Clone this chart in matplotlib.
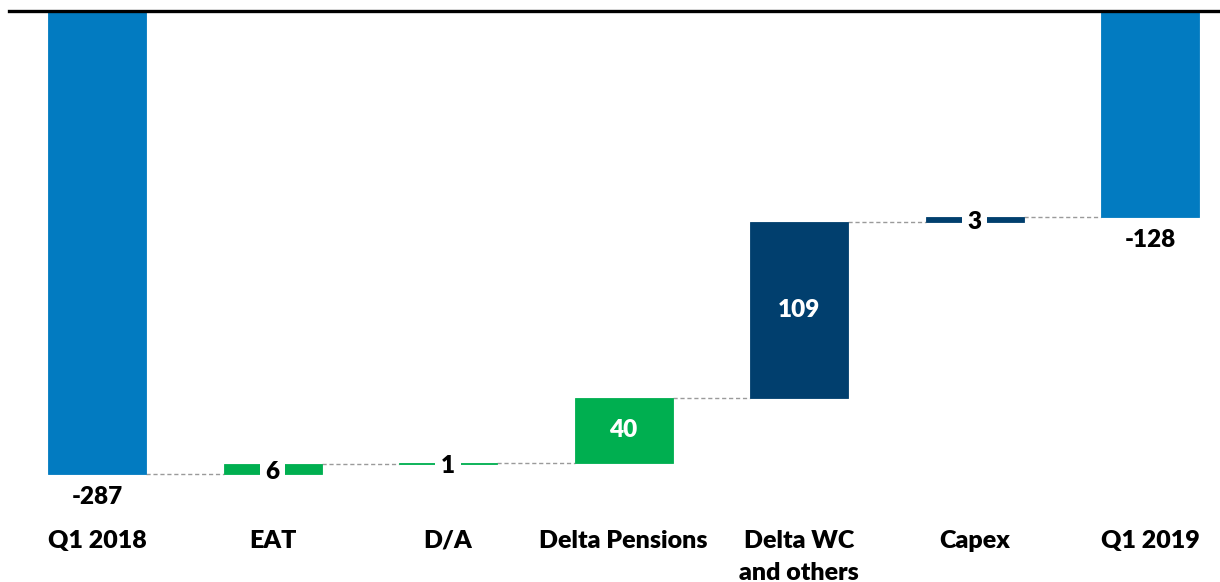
import matplotlib
matplotlib.use("Agg")
import matplotlib.pyplot as plt
import numpy as np

categories = ["Q1 2018", "EAT", "D/A", "Delta Pensions", "Delta WC\nand others", "Capex", "Q1 2019"]
values = [-287, 6, 1, 40, 109, 3, -128]
is_total = [True, False, False, False, False, False, True]
value_labels = ["-287", "6", "1", "40", "109", "3", "-128"]

BLUE = "#027BC1"
GREEN = "#00AF50"
NAVY = "#013F6E"
bar_colors = [BLUE, GREEN, GREEN, GREEN, NAVY, NAVY, BLUE]

plt.rcParams['font.family'] = ['Lato', 'DejaVu Sans']
FW = "heavy"

W, H = 1220, 582
fig = plt.figure(figsize=(W / 100, H / 100), dpi=100)

scale = 1.613  # px per unit
zero_px = 11
ax_bottom_px = 520
ax = fig.add_axes([0, 1 - ax_bottom_px / H, 1, ax_bottom_px / H])
ax.set_ylim(-(ax_bottom_px - zero_px) / scale, zero_px / scale)
x0, dx = 97, 175.5
ax.set_xlim(-x0 / dx, (W - x0) / dx)

x = np.arange(len(values))
bottoms, heights = [], []
running = 0
for v, t in zip(values, is_total):
    if t:
        bottoms.append(0)
        heights.append(v)
        running = v
    else:
        bottoms.append(running)
        heights.append(v)
        running += v

bw = 98 / dx
ax.bar(x, heights, bottom=bottoms, width=bw, color=bar_colors,
       edgecolor=bar_colors, linewidth=0.6, zorder=2)

# connectors
levels = [b + h for b, h in zip(bottoms, heights)]
for i in range(len(values) - 1):
    ax.plot([x[i] + bw / 2, x[i + 1] - bw / 2], [levels[i], levels[i]],
            color="#9A9A9A", lw=1.0, ls=(0, (3, 2)), zorder=1)

ax.axhline(0, xmin=9 / W, xmax=1, color="black", lw=2.4, zorder=3)

for i, (b, h, lab) in enumerate(zip(bottoms, heights, value_labels)):
    if is_total[i]:
        ax.annotate(lab, (x[i], b + h), xytext=(0, -16.5), textcoords="offset points",
                    ha="center", va="center", fontsize=17.5, fontweight=FW, color="black")
    elif abs(h) * scale > 30:
        ax.text(x[i], b + h / 2, lab, ha="center", va="center", fontsize=17.5,
                fontweight=FW, color="white", zorder=4)
    else:
        ax.text(x[i], b + h / 2 - 1.5, lab, ha="center", va="center", fontsize=17.5,
                fontweight=FW, color="black", zorder=4,
                bbox=dict(facecolor="white", edgecolor="none", pad=4))

ax.set_xticks(x)
ax.set_xticklabels(categories, fontsize=18, fontweight=FW, linespacing=1.55)
ax.tick_params(axis="x", length=0, pad=7)
ax.set_yticks([])
for s in ax.spines.values():
    s.set_visible(False)

fig.savefig("out.png", dpi=100)
